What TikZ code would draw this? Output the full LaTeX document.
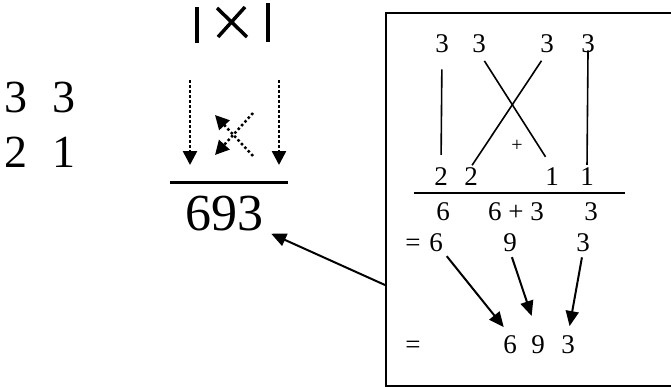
\documentclass[tikz,border=0pt]{standalone}
\usepackage{fontspec}
\setmainfont{Liberation Serif}
\usetikzlibrary{arrows.meta, positioning}

\begin{document}
\begin{tikzpicture}[x=1pt, y=-1pt,
  big/.style={font=\fontsize{46}{50}\selectfont, inner sep=0pt, anchor=base},
  huge/.style={font=\fontsize{52}{56}\selectfont, inner sep=0pt, anchor=base},
  mid/.style={font=\fontsize{27}{30}\selectfont, inner sep=0pt, anchor=base},
  tiny/.style={font=\fontsize{20}{22}\selectfont, inner sep=0pt, anchor=base},
  sym/.style={line width=3.5pt},
  dotarr/.style={line width=2.5pt, dash pattern=on 2.5pt off 2.5pt,
                 -{Triangle[length=14pt, width=14pt]}},
  link/.style={line width=1.6pt},
  arr/.style={line width=2pt, -{Triangle[length=15pt, width=13pt]}},
  rulebar/.style={line width=#1}
]
\useasboundingbox (0,0) rectangle (671,386);

% left factors
\node[big] (a1) at (16,112) {3};
\node[big] (a2) at (64,112) {3};
\node[big] (b1) at (16,167) {2};
\node[big] (b2) at (64,167) {1};

% the |x| pattern
\draw[sym] (197,7) -- (197,43);
\draw[sym] (217,8) -- (247,37);
\draw[sym] (245,7) -- (218,37);
\draw[sym] (268,3) -- (268,42);

% dotted pattern arrows
\draw[dotarr] (190,80) -- (190,165);
\draw[dotarr] (279,80) -- (279,165);
\draw[dotarr] (253,156) -- (215,115);
\draw[dotarr] (253,113) -- (215,155);

% result
\draw[rulebar=3pt] (170,182) -- (288,182);
\node[huge] (res) at (224,230) {693};

% worked panel (runs off the right edge)
\node[draw, line width=2pt, inner sep=0pt, anchor=north west,
      minimum width=400pt, minimum height=373pt] (panel) at (385,12) {};

% top row
\node[mid] (t1) at (442,52) {3};
\node[mid] (t2) at (479,52) {3};
\node[mid] (t3) at (547,52) {3};
\node[mid] (t4) at (588,52) {3};
% bottom row
\node[mid] (u1) at (441,185) {2};
\node[mid] (u2) at (471,185) {2};
\node[mid] (u3) at (552,185) {1};
\node[mid] (u4) at (587,185) {1};
\node[tiny] (plus) at (517,151) {+};

% cross links
\draw[link, shorten <=17pt, shorten >=12pt] (t1.south) -- (u1.north);
\draw[link, shorten <=10pt, shorten >=12pt] (t2.south) -- (u3.north);
\draw[link, shorten <=10pt, shorten >=2pt] (t3.south) -- (u2.north);
\draw[link, shorten <=-2pt, shorten >=2pt] (t4.south) -- (u4.north);

\draw[rulebar=2pt] (414,193) -- (625,193);

% partial sums
\node[mid] (s1) at (443,220) {6};
\node[mid] (s2) at (516,220) {6 + 3};
\node[mid] (s3) at (591,220) {3};

\node[mid] (e1) at (413,251) {=};
\node[mid] (r1) at (436,251) {6};
\node[mid] (r2) at (510,251) {9};
\node[mid] (r3) at (583,251) {3};

\node[mid] (e2) at (413,353) {=};
\node[mid] (f1) at (510,353) {6};
\node[mid] (f2) at (538,353) {9};
\node[mid] (f3) at (568,353) {3};

\draw[arr, shorten <=6pt, shorten >=10pt] (r1.south east) -- (f1.north);
\draw[arr, shorten <=6pt, shorten >=20pt] (r2.south) -- (f2.north);
\draw[arr, shorten <=6pt, shorten >=9pt] (r3.south) -- (f3.north);

% back to the answer
\coordinate (src) at (385,285);
\draw[arr] (src) -- ([shift={(8,3)}]res.south east);
\end{tikzpicture}
\end{document}
